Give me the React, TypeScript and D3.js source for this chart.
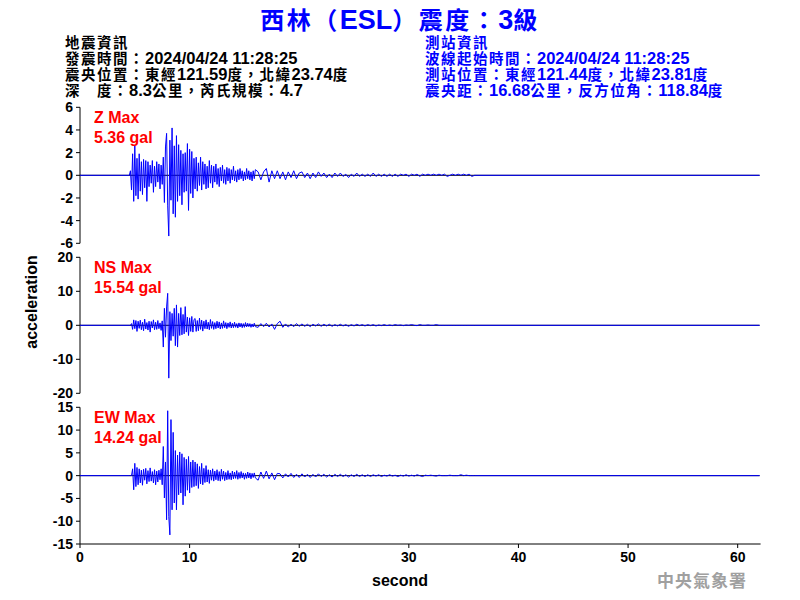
import React from "react";
import * as d3 from "d3";

// ---------- data ----------
const titleText = "西林（ESL）震度：3級";
const quakeInfo = [
  "地震資訊",
  "發震時間：2024/04/24 11:28:25",
  "震央位置：東經121.59度，北緯23.74度",
  "深　度：8.3公里，芮氏規模：4.7",
];
const stationInfo = [
  "測站資訊",
  "波線起始時間：2024/04/24 11:28:25",
  "測站位置：東經121.44度，北緯23.81度",
  "震央距：16.68公里，反方位角：118.84度",
];
const componentNames = ["Z", "NS", "EW"];
const maxValues = ["5.36", "15.54", "14.24"];
const yLimits = [6, 20, 15];
const yTickSteps = [2, 10, 5];
const xTicks = [0, 10, 20, 30, 40, 50, 60];
const xMax = 62;

// samples every 0.1 s from 4.5 s to 16.0 s
const mainStart = 4.5;
const mainStep = 0.1;
// samples every 0.25 s from 16.25 s to 36.0 s
const tailStart = 16.25;
const tailStep = 0.25;

const zMain = [
  0, 0.4, -1.3, 1.9, -2.3, 2.6, -1.8, 1.5, -2.1, 1.9,
  -1.4, 1.2, -1.7, 1.4, -1.1, 1.3, -2.3, 1.2, -1.0, 0.9,
  -0.7, 1.3, -1.5, 0.8, -1.0, 1.2, -0.6, 1.0, -1.2, 0.9,
  -0.8, 1.6, -2.4, 2.5, 3.7, -2.7, -5.36, 3.1, -2.2, 4.18,
  -3.4, 2.6, -3.7, 3.5, -2.3, 2.7, -1.8, 2.2, -2.6, 1.9,
  -1.5, 2.0, -1.4, 2.8, -3.1, 2.3, -1.6, 2.1, -2.0, 1.5,
  -1.2, 1.6, -1.4, 1.1, -0.9, 1.6, -1.3, 1.2, -0.8, 1.0,
  -1.2, 0.8, -1.1, 1.3, -0.7, 0.9, -1.1, 0.8, -0.6, 1.0,
  -0.8, 0.6, -1.0, 0.7, -0.5, 0.9, -0.7, 0.5, -0.8, 0.7,
  -0.5, 0.6, -0.7, 0.5, -0.4, 0.8, -0.5, 0.4, -0.6, 0.5,
  -0.4, 0.6, -0.3, 0.4, -0.5, 0.3, -0.4, 0.6, -0.3, 0.4,
  -0.4, 0.3, -0.5, 0.4, -0.3, 0.5,
];
const zTail = [
  0.3, -0.4, 0.3, 0.6, -0.6, 0.4, -0.3, 0.4,
  -0.3, 0.3, -0.4, 0.3, -0.2, 0.4, -0.3, 0.2,
  0.3, -0.2, 0.2, -0.3, 0.2, -0.2, 0.3, -0.1,
  0.2, -0.2, 0.1, -0.2, 0.2, -0.1, 0.2, -0.1,
  0.1, -0.2, 0.1, -0.1, 0.2, -0.1, 0.1, -0.1,
  0.1, -0.1, 0.2, -0.1, 0.1, -0.1, 0.1, -0.1,
  0.1, -0.1, 0.1, -0.1, 0.1, 0, 0.1, -0.1,
  0.1, 0, 0.1, -0.1, 0.1, 0, 0.1, 0,
  0.1, 0, 0.1, 0, 0.1, -0.1, 0, 0.1,
  0, 0.1, 0, 0.1, 0, 0.1, -0.1, 0,
];

const nsMain = [
  0, 0, 0.5, -1.2, 1.6, -1.0, 1.4, -1.8, 1.2, -0.9,
  1.5, -1.3, 0.9, -1.6, 1.8, -1.1, 0.8, -1.4, 1.2, -2.0,
  1.1, -0.8, 1.6, -1.3, 0.9, -1.2, 1.4, -1.0, 0.7, -1.5,
  1.3, -6.4, 5.0, -3.5, 5.4, 9.4, -15.54, 4.0, -4.5, 3.5,
  -3.2, 5.0, -6.0, 6.0, -6.4, 3.5, -3.0, 5.2, -2.8, 3.2,
  -2.5, 5.5, -2.0, 2.4, -3.0, 2.2, -1.8, 2.6, -2.0, 1.7,
  2.0, -1.8, 1.4, -1.6, 2.1, -1.2, 1.5, -1.7, 1.2, -1.0,
  1.6, -1.1, 0.9, -1.3, 1.7, -0.9, 1.1, -1.2, 0.8, -1.0,
  1.2, -0.8, 1.0, -1.1, 0.7, -0.9, 1.3, -0.7, 0.8, -1.0,
  0.7, -0.6, 1.0, -0.8, 0.6, -0.7, 0.9, -0.6, 0.5, -0.8,
  0.7, -0.5, 0.6, -0.7, 0.5, -0.6, 0.8, -0.5, 0.6, -0.4,
  0.5, -0.6, 0.4, -0.5, 0.6, -0.4,
];
const nsTail = [
  -0.6, 0.5, -0.4, 0.6, -0.5, 0.4, -1.2, 0.5,
  1.2, -0.6, 0.4, -0.5, 0.3, -0.4, 0.5, -0.3,
  0.4, -0.3, 0.3, -0.4, 0.3, -0.2, 0.4, -0.3,
  0.3, -0.2, 0.3, -0.3, 0.2, -0.2, 0.3, -0.2,
  0.2, -0.3, 0.2, -0.2, 0.3, -0.1, 0.2, -0.2,
  0.2, -0.1, 0.2, -0.2, 0.1, -0.1, 0.2, -0.1,
  0.1, -0.1, 0.2, 0, 0.1, -0.1, 0.1, 0,
  0.2, 0, -0.1, 0.2, 0, 0, 0.1, 0,
  0, 0.2, 0, 0, 0, 0, 0, 0,
  0, 0, 0, 0, 0, 0, 0, 0,
];

const ewMain = [
  0, 0, 0, 1.5, -3.1, 2.7, -2.4, 1.8, -2.0, 1.5,
  -1.6, 1.2, -2.1, 1.4, -1.0, 1.6, -1.8, 1.1, -1.3, 1.7,
  -1.2, 0.9, -1.6, 1.3, -2.0, 1.0, -1.4, 1.2, -0.9, 1.5,
  -2.0, 6.4, -4.9, 3.0, -9.7, 14.24, -9.0, -13.0, 12.3, -7.5,
  9.5, -6.0, 5.5, -7.5, 4.5, -4.2, 5.2, -3.8, 4.8, -6.4,
  4.0, -4.5, 3.6, -3.2, 4.2, -3.8, 3.0, -2.6, 3.4, -2.4,
  3.0, -2.2, 2.6, -2.8, 2.0, -1.8, 2.7, -2.0, 1.6, -1.5,
  2.2, -1.4, 1.3, -1.7, 1.2, -1.0, 1.5, -1.2, 1.0, -0.9,
  1.3, -1.1, 0.9, -1.2, 1.4, -0.8, 1.0, -1.1, 0.7, -0.9,
  1.1, -0.8, 0.6, -0.9, 1.0, -0.7, 0.8, -0.6, 1.1, -0.8,
  0.7, -0.6, 0.9, -0.5, 0.6, -0.8, 0.5, -0.6, 0.8, -0.5,
  0.6, -0.7, 0.5, -0.4, 0.6, -0.5,
];
const ewTail = [
  -1.0, 0.8, -0.6, 1.0, -0.7, 0.6, -0.9, 0.5,
  0.4, -0.5, 0.4, -0.3, 0.5, -0.4, 0.3, -0.4,
  0.4, -0.3, 0.3, -0.4, 0.3, -0.3, 0.4, -0.2,
  0.3, -0.3, 0.2, -0.3, 0.3, -0.2, 0.3, -0.2,
  0.2, -0.3, 0.2, -0.2, 0.3, -0.2, 0.2, -0.2,
  0.2, -0.2, 0.2, -0.1, 0.2, -0.2, 0.1, -0.1,
  0.2, -0.1, 0.1, -0.2, 0.1, -0.1, 0.2, -0.1,
  0.1, -0.1, 0.2, 0, -0.2, 0.1, 0, 0.1,
  0, -0.1, 0.1, 0, 0, 0, 0.1, 0,
  0, 0, 0.2, 0, 0.1, 0, 0, 0,
];

const mainSeries = [zMain, nsMain, ewMain];
const tailSeries = [zTail, nsTail, ewTail];

// ---------- layout ----------
const W = 800;
const H = 600;
const plotLeft = 80;
const plotRight = 759.6;
const panelTops = [107.3, 257.3, 407.3];
const panelBottoms = [243.3, 393.3, 544];

const SANS = "'Liberation Sans', Arial, 'Noto Sans CJK TC', sans-serif";
const BLUE = "#0000ff";
const RED = "#ff0000";

function buildPoints(main: number[], tail: number[]): [number, number][] {
  const pts: [number, number][] = [[0, 0]];
  main.forEach((v, i) => pts.push([mainStart + i * mainStep, v]));
  tail.forEach((v, i) => pts.push([tailStart + i * tailStep, v]));
  pts.push([xMax, 0]);
  return pts;
}

// split into runs of ASCII / non-ASCII characters so each gets its own size
function runs(s: string): { t: string; cjk: boolean }[] {
  const out: { t: string; cjk: boolean }[] = [];
  for (const ch of s) {
    const cjk = ch.charCodeAt(0) > 127;
    const last = out[out.length - 1];
    if (last && last.cjk === cjk) last.t += ch;
    else out.push({ t: ch, cjk });
  }
  return out;
}

function MixedText(props: {
  x: number;
  y: number;
  text: string;
  cjkSize: number;
  asciiSize: number;
  spacing: number;
  fill: string;
  anchor?: string;
}) {
  return (
    <text
      x={props.x}
      y={props.y}
      fill={props.fill}
      fontWeight="bold"
      textAnchor={props.anchor || "start"}
    >
      {runs(props.text).map((r, i) =>
        r.cjk ? (
          <tspan
            key={i}
            fontSize={props.cjkSize}
            letterSpacing={props.spacing}
            fontFamily="'Noto Sans CJK TC', sans-serif"
          >
            {r.t}
          </tspan>
        ) : (
          <tspan key={i} fontSize={props.asciiSize} fontFamily="'Liberation Sans', Arial, sans-serif">
            {r.t}
          </tspan>
        )
      )}
    </text>
  );
}

export default function App() {
  const x = d3.scaleLinear().domain([0, xMax]).range([plotLeft, plotRight]);

  return (
    <svg
      width={W}
      height={H}
      style={{ position: "fixed", left: 0, top: 0, background: "#fff" }}
      fontFamily={SANS}
    >
      <rect x={0} y={0} width={W} height={H} fill="#fff" />
      <MixedText
        x={400}
        y={29}
        text={titleText}
        cjkSize={24}
        asciiSize={27}
        spacing={2.5}
        fill={BLUE}
        anchor="middle"
      />
      {quakeInfo.map((s, i) => (
        <MixedText
          key={"q" + i}
          x={65}
          y={48 + i * 16}
          text={s}
          cjkSize={14.5}
          asciiSize={16.5}
          spacing={1.5}
          fill="#000"
        />
      ))}
      {stationInfo.map((s, i) => (
        <MixedText
          key={"s" + i}
          x={425}
          y={48 + i * 16}
          text={s}
          cjkSize={14.5}
          asciiSize={16.5}
          spacing={1.5}
          fill={BLUE}
        />
      ))}

      {componentNames.map((name, p) => {
        const lim = yLimits[p];
        const y = d3.scaleLinear().domain([-lim, lim]).range([panelBottoms[p], panelTops[p]]);
        const ticks = d3.range(-lim, lim + 0.001, yTickSteps[p]);
        const line = d3
          .line<[number, number]>()
          .x((d) => x(d[0]))
          .y((d) => y(d[1]));
        const pts = buildPoints(mainSeries[p], tailSeries[p]);
        return (
          <g key={name}>
            <line x1={plotLeft} x2={plotLeft} y1={y(-lim)} y2={y(lim)} stroke="#000" strokeWidth={1} />
            {ticks.map((t) => (
              <g key={t}>
                <line x1={plotLeft - 4} x2={plotLeft} y1={y(t)} y2={y(t)} stroke="#000" />
                <text
                  x={73}
                  y={y(t)}
                  dy="0.36em"
                  textAnchor="end"
                  fontSize={14}
                  fontWeight="bold"
                  fill="#000"
                >
                  {t}
                </text>
              </g>
            ))}
            <line x1={plotLeft} x2={plotRight} y1={y(0)} y2={y(0)} stroke="#000" strokeWidth={1} />
            <path d={line(pts) || ""} fill="none" stroke={BLUE} strokeWidth={1} />
            <text x={94} y={panelTops[p] + 16} fontSize={16} fontWeight="bold" fill={RED}>
              {name} Max
            </text>
            <text x={94} y={panelTops[p] + 35.4} fontSize={16} fontWeight="bold" fill={RED}>
              {maxValues[p]} gal
            </text>
          </g>
        );
      })}

      {/* x axis */}
      <line x1={plotLeft} x2={plotRight + 1} y1={544} y2={544} stroke="#000" />
      {xTicks.map((t) => (
        <g key={"x" + t}>
          <line x1={x(t)} x2={x(t)} y1={544} y2={548} stroke="#000" />
          <text x={x(t)} y={562} textAnchor="middle" fontSize={14} fontWeight="bold" fill="#000">
            {t}
          </text>
        </g>
      ))}
      <text x={400} y={586} textAnchor="middle" fontSize={16} fontWeight="bold" fill="#000">
        second
      </text>
      <text
        transform="translate(37,302) rotate(-90)"
        textAnchor="middle"
        fontSize={16}
        fontWeight="bold"
        fill="#000"
      >
        acceleration
      </text>
      <text
        x={657}
        y={587}
        fontSize={17}
        fontWeight="bold"
        fill="#a0a0a0"
        letterSpacing={1}
        fontFamily="'Noto Sans CJK TC', sans-serif"
      >
        中央氣象署
      </text>
    </svg>
  );
}
